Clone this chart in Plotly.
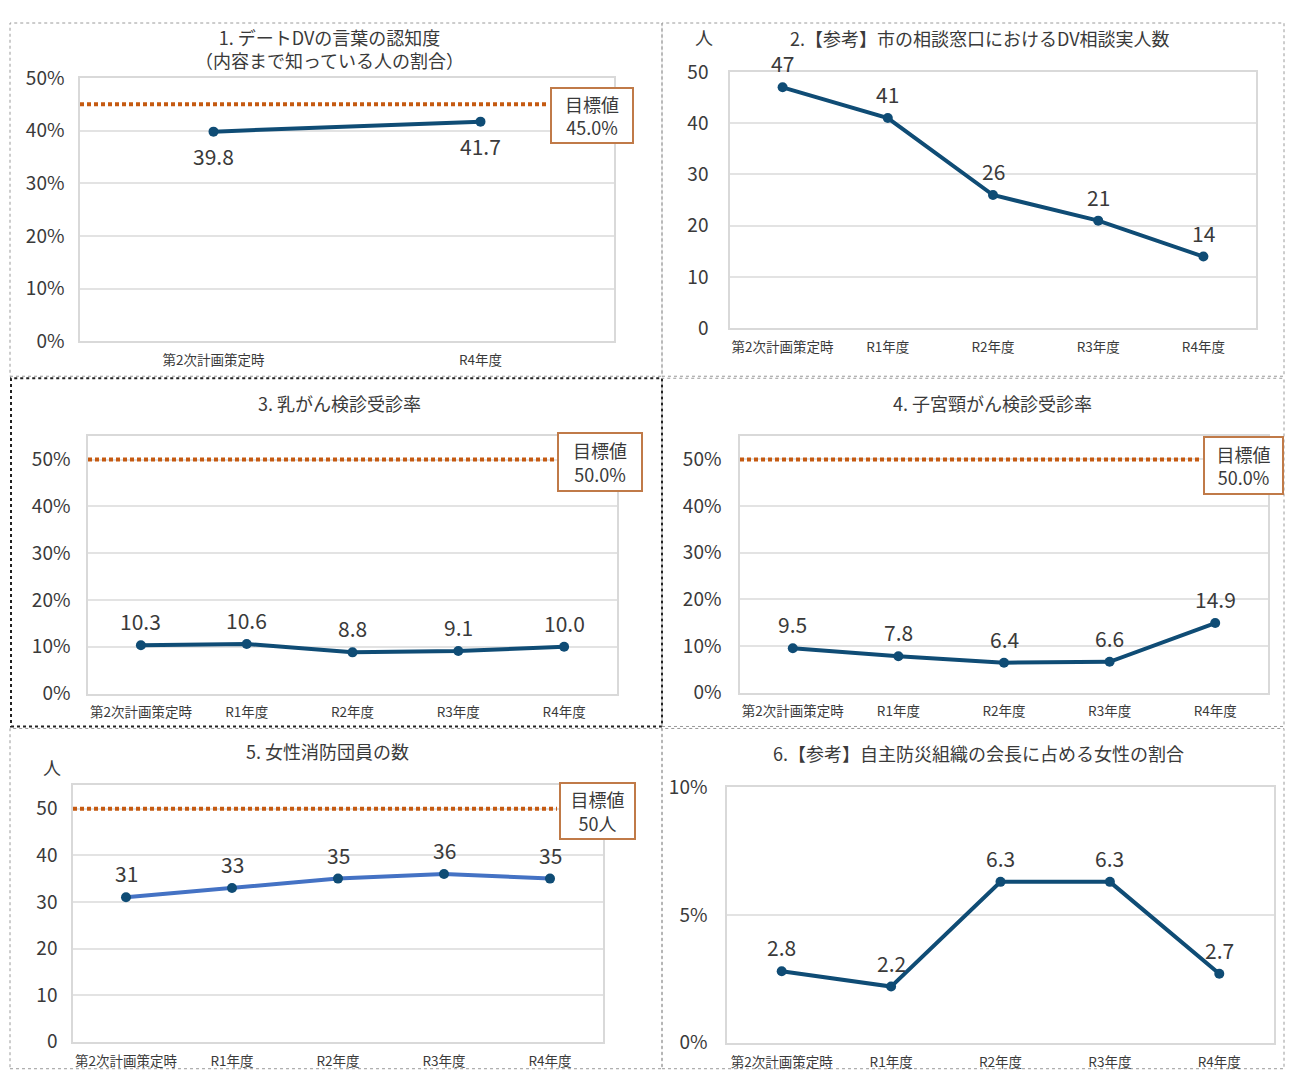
"""Six small line charts (gender equality indicators), laid out as a 2x3 collage."""

import plotly.graph_objects as go

# ---- data ----
cats_two = ["第2次計画策定時", "R4年度"]
cats_five = ["第2次計画策定時", "R1年度", "R2年度", "R3年度", "R4年度"]

dv_awareness = [39.8, 41.7]               # 1. %
dv_consults = [47, 41, 26, 21, 14]        # 2. persons
breast_screen = [10.3, 10.6, 8.8, 9.1, 10.0]   # 3. %
cervical_screen = [9.5, 7.8, 6.4, 6.6, 14.9]   # 4. %
fire_volunteers = [31, 33, 35, 36, 35]    # 5. persons
disaster_chairs = [2.8, 2.2, 6.3, 6.3, 2.7]    # 6. %

targets = [45.0, None, 50.0, 50.0, 50, None]
target_labels = ["45.0%", None, "50.0%", "50.0%", "50人", None]

titles = [
    "1. デートDVの言葉の認知度<br>（内容まで知っている人の割合）",
    "2.【参考】市の相談窓口におけるDV相談実人数",
    "3. 乳がん検診受診率",
    "4. 子宮頸がん検診受診率",
    "5. 女性消防団員の数",
    "6.【参考】自主防災組織の会長に占める女性の割合",
]

# page offsets measured from earlier renders (body margin, top gap, vertical squeeze)
PAD_X = 8
TOP = 22.5
SQUEEZE = 0.977
W = 1294 - 2 * PAD_X
H = 1074
FONT = "Noto Sans CJK JP, Noto Sans, sans-serif"
TXT = "#3A3A3A"
NAVY = "#0F4C75"
BLUE = "#4472C4"
ORANGE = "#C55A11"
BOX = "#C07A48"
GRID = "#E3E3E3"

# layout of each panel in page pixels: plot area, y range, ticks, target box etc.
panels = [
    dict(cats=cats_two, vals=dv_awareness, fmt=".1f", plot=(80, 614, 77, 341),
         yr=[0, 50], dt=10, suf="%", below=True, title_xy=(330, 48),
         box=(550, 86, 634, 143), line_end=548, standoff=10),
    dict(cats=cats_five, vals=dv_consults, fmt="d", plot=(730, 1256, 71, 328),
         yr=[0, 50], dt=10, suf="", title_xy=(980, 37), unit=(704, 36), standoff=16),
    dict(cats=cats_five, vals=breast_screen, fmt=".1f", plot=(88, 617, 436, 694),
         yr=[0, 55], dt=10, suf="%", title_xy=(340, 403),
         box=(557, 432, 643, 492), line_end=555, standoff=12),
    dict(cats=cats_five, vals=cervical_screen, fmt=".1f", plot=(740, 1268, 436, 693),
         yr=[0, 55], dt=10, suf="%", title_xy=(992, 403),
         box=(1203, 436, 1284, 495), line_end=1201, standoff=13),
    dict(cats=cats_five, vals=fire_volunteers, fmt="d", plot=(73, 603, 786, 1043),
         yr=[0, 55], dt=10, suf="", title_xy=(327, 752), unit=(52, 768),
         box=(559, 783, 636, 841), line_end=557, line_color=BLUE, standoff=10),
    dict(cats=cats_five, vals=disaster_chairs, fmt=".1f", plot=(727, 1274, 788, 1044),
         yr=[0, 10], dt=5, suf="%", title_xy=(978, 754), standoff=14),
]

# outer frames of the pasted screenshots
frames = [
    ((10, 13, 662, 376), "#9A9A9A", 1),
    ((662, 13, 1284, 376), "#9A9A9A", 1),
    ((11, 378, 662, 727), "#222222", 2),
    ((662, 378, 1284, 727), "#9A9A9A", 1),
    ((10, 729, 662, 1070), "#9A9A9A", 1),
    ((662, 729, 1284, 1070), "#9A9A9A", 1),
]


def px(x):
    return min(max((x - PAD_X) / W, 0), 0.999)


def py(y):
    return min(max(1 - (y / SQUEEZE - TOP) / H, 0.001), 1)


fig = go.Figure()
layout = {}
annotations = []
shapes = []

for i, p in enumerate(panels, start=1):
    sfx = "" if i == 1 else str(i)
    x0, x1, y0, y1 = p["plot"]
    n = len(p["cats"])

    fig.add_trace(go.Scatter(
        x=p["cats"], y=p["vals"],
        mode="lines+markers",
        line=dict(color=p.get("line_color", NAVY), width=4),
        marker=dict(size=10, color=NAVY),
        xaxis="x" + sfx, yaxis="y" + sfx,
        showlegend=False,
        hoverinfo="skip",
    ))

    layout["xaxis" + sfx] = dict(
        domain=[px(x0), px(x1)], anchor="y" + sfx,
        type="category", range=[-0.5, n - 0.5],
        showgrid=False, zeroline=False,
        showline=True, mirror=True, linecolor="#D9D9D9", linewidth=1.5,
        ticks="", ticklabelstandoff=6,
        tickfont=dict(family=FONT, size=13.5, color=TXT),
    )
    layout["yaxis" + sfx] = dict(
        domain=[py(y1), py(y0)], anchor="x" + sfx,
        range=p["yr"], dtick=p["dt"], tick0=0, ticksuffix=p["suf"],
        showgrid=True, gridcolor=GRID, gridwidth=1.5, zeroline=False,
        showline=True, mirror=True, linecolor="#D9D9D9", linewidth=1.5,
        ticks="", ticklabelstandoff=p["standoff"],
        tickfont=dict(family=FONT, size=19, color=TXT),
    )

    # data labels
    for c, v in zip(p["cats"], p["vals"]):
        annotations.append(dict(
            x=c, y=v, xref="x" + sfx, yref="y" + sfx,
            text=format(v, p["fmt"]), showarrow=False,
            yshift=-24 if p.get("below") else 24,
            font=dict(family=FONT, size=21, color=TXT),
        ))

    # title
    tx, ty = p["title_xy"]
    annotations.append(dict(
        x=px(tx), y=py(ty), xref="paper", yref="paper",
        text=titles[i - 1], showarrow=False,
        xanchor="center", yanchor="middle",
        font=dict(family=FONT, size=18, color=TXT),
    ))

    if "unit" in p:
        ux, uy = p["unit"]
        annotations.append(dict(
            x=px(ux), y=py(uy), xref="paper", yref="paper",
            text="人", showarrow=False, xanchor="center", yanchor="middle",
            font=dict(family=FONT, size=18, color=TXT),
        ))

    # target line + box
    tgt = targets[i - 1]
    if tgt is not None:
        shapes.append(dict(
            type="line", xref="x" + sfx + " domain", yref="y" + sfx,
            x0=0, x1=(p["line_end"] - x0) / (x1 - x0), y0=tgt, y1=tgt,
            line=dict(color=ORANGE, width=4, dash="4px,3px"),
        ))
        bx0, by0, bx1, by1 = p["box"]
        annotations.append(dict(
            x=px((bx0 + bx1) / 2), y=py((by0 + by1) / 2),
            xref="paper", yref="paper",
            text="目標値<br>" + target_labels[i - 1], showarrow=False,
            xanchor="center", yanchor="middle",
            width=bx1 - bx0 - 8, height=by1 - by0 - 8, borderpad=2,
            bordercolor=BOX, borderwidth=2, bgcolor="white",
            font=dict(family=FONT, size=18, color=TXT),
        ))

for (fx0, fy0, fx1, fy1), col, w in frames:
    shapes.append(dict(
        type="rect", xref="paper", yref="paper",
        x0=px(fx0), x1=px(fx1), y0=py(fy1), y1=py(fy0),
        line=dict(color=col, width=w, dash="dot"),
        layer="below",
    ))

fig.update_layout(
    **layout,
    width=W, height=H,
    margin=dict(l=0, r=0, t=0, b=0),
    paper_bgcolor="white", plot_bgcolor="white",
    font=dict(family=FONT, color=TXT),
    annotations=annotations,
    shapes=shapes,
)

fig.write_html("out.html")
